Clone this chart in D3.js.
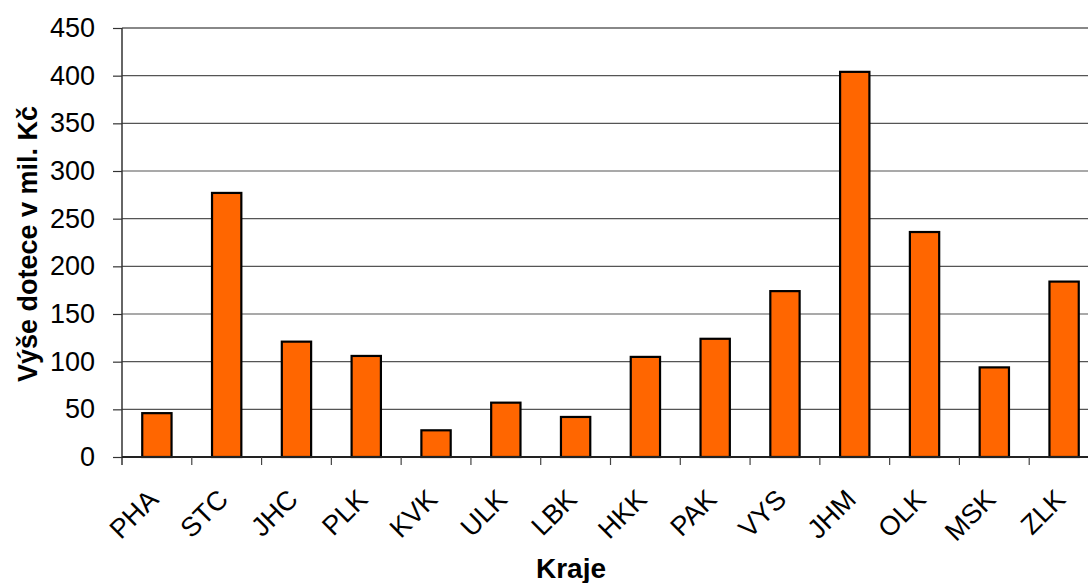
<!DOCTYPE html>
<html>
<head>
<meta charset="utf-8">
<script src="https://cdn.jsdelivr.net/npm/d3@7"></script>
<style>
    body { margin: 0; background: #fff; overflow: hidden; }
    text { font-family: "Liberation Sans", Arial, sans-serif; }
</style>
</head>
<body>
<div id="chart"></div>
<script>
var kraje = ["PHA", "STC", "JHC", "PLK", "KVK", "ULK", "LBK", "HKK", "PAK", "VYS", "JHM", "OLK", "MSK", "ZLK"];
var dotace = [46, 277, 121, 106, 28, 57, 42, 105, 124, 174, 404, 236, 94, 184];
var yTicks = [0, 50, 100, 150, 200, 250, 300, 350, 400, 450];

const svgDimentions = { width: 1088, height: 583 };
const margins = { top: 28, bottom: 126, left: 122, right: -11 };

var data = kraje.map((k, i) => ({ nom: k, hodnota: dotace[i] }));

var svg = d3.select("#chart").append("svg")
    .attr("width", svgDimentions.width)
    .attr("height", svgDimentions.height);

var scaleX = d3.scaleBand()
    .domain(kraje)
    .range([margins.left, svgDimentions.width - margins.right]);

var scaleBars = d3.scaleBand()
    .domain(kraje)
    .range([margins.left, svgDimentions.width - margins.right])
    .paddingInner(0.58)
    .paddingOuter(0.29);

var scaleY = d3.scaleLinear()
    .domain([0, 450])
    .range([svgDimentions.height - margins.bottom, margins.top]);

// gridlines
svg.append("g")
    .selectAll("line")
    .data(yTicks.filter(d => d > 0))
    .enter()
    .append("line")
    .attr("x1", margins.left)
    .attr("x2", svgDimentions.width)
    .attr("y1", d => scaleY(d))
    .attr("y2", d => scaleY(d))
    .attr("stroke", d => d === 450 ? "#888" : "#555")
    .attr("stroke-width", d => d === 450 ? 2 : 1.2);

// bars
svg.selectAll(".bars")
    .data(data)
    .enter()
    .append("rect")
    .attr("class", "bars")
    .attr("x", d => scaleBars(d.nom))
    .attr("y", d => scaleY(d.hodnota))
    .attr("width", scaleBars.bandwidth())
    .attr("height", d => scaleY(0) - scaleY(d.hodnota))
    .attr("fill", "#FF6600")
    .attr("stroke", "#000")
    .attr("stroke-width", 2.2);

// y axis
var axisY = d3.axisLeft(scaleY)
    .tickValues(yTicks)
    .tickSize(9)
    .tickPadding(18)
    .tickSizeOuter(0);

var gY = svg.append("g")
    .attr("class", "y axis")
    .attr("transform", "translate(" + margins.left + ",0)")
    .call(axisY);
gY.select(".domain").remove();
gY.selectAll(".tick line").attr("stroke", "#333").attr("stroke-width", 1.2);
gY.selectAll(".tick text")
    .attr("font-size", 27)
    .attr("fill", "#000")
    .attr("font-family", "Liberation Sans, Arial, sans-serif");

svg.append("line")
    .attr("x1", margins.left).attr("x2", margins.left)
    .attr("y1", margins.top).attr("y2", scaleY(0) + 8)
    .attr("stroke", "#333").attr("stroke-width", 1.5);

// x axis
var gX = svg.append("g")
    .attr("class", "x axis")
    .attr("transform", "translate(0," + scaleY(0) + ")");

gX.append("line")
    .attr("x1", margins.left).attr("x2", svgDimentions.width)
    .attr("y1", 0).attr("y2", 0)
    .attr("stroke", "#222").attr("stroke-width", 2);

gX.selectAll(".tk")
    .data(kraje.slice(1))
    .enter()
    .append("line")
    .attr("class", "tk")
    .attr("x1", d => scaleX(d)).attr("x2", d => scaleX(d))
    .attr("y1", 0).attr("y2", 8)
    .attr("stroke", "#444").attr("stroke-width", 1.2);

gX.selectAll(".lbl")
    .data(kraje)
    .enter()
    .append("text")
    .attr("class", "lbl")
    .attr("text-anchor", "end")
    .attr("font-size", 27)
    .attr("transform", d => "translate(" + (scaleX(d) + scaleX.bandwidth() / 2 + 3) + ",44) rotate(-45)")
    .text(d => d);

// axis titles
svg.append("text")
    .attr("transform", "translate(37,244) rotate(-90)")
    .attr("text-anchor", "middle")
    .attr("font-size", 27)
    .attr("font-weight", "bold")
    .text("Výše dotece v mil. Kč");

svg.append("text")
    .attr("x", 571)
    .attr("y", 578)
    .attr("text-anchor", "middle")
    .attr("font-size", 28)
    .attr("font-weight", "bold")
    .text("Kraje");
</script>
</body>
</html>
